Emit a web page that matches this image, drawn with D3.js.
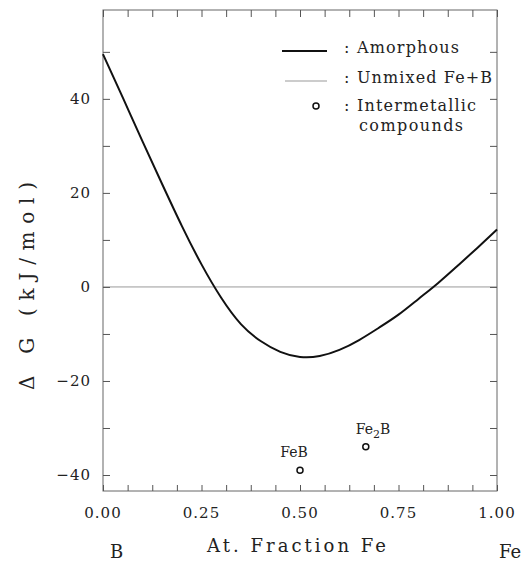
<!DOCTYPE html>
<meta charset="utf-8">
<script src="https://d3js.org/d3.v7.min.js"></script>
<style>
  body { margin: 0; background: #fff; }
  text { font-family: "DejaVu Serif", "Liberation Serif", serif; fill: #222; }
</style>
<div id="my_dataviz"></div>
<script>

// composition (atomic fraction Fe) and free energy of the amorphous phase
var xFe = [0, 0.05, 0.10, 0.15, 0.20, 0.25, 0.30, 0.35, 0.40, 0.45, 0.50,
           0.55, 0.60, 0.65, 0.70, 0.75, 0.80, 0.85, 0.90, 0.95, 1.00];
var dGamorph = [49.5, 40.3, 31.0, 21.9, 13.0, 4.8, -2.3, -7.9, -11.5, -13.8, -14.9,
                -14.7, -13.4, -11.3, -8.7, -5.9, -2.6, 0.8, 4.5, 8.3, 12.2];

// intermetallic compounds
var compNames = ["FeB", "Fe2B"];
var compX = [0.5, 0.667];
var compG = [-39, -34];

// tick labels
var xTicks = [0, 0.25, 0.5, 0.75, 1];
var yTicks = [-40, -20, 0, 20, 40];

var width = 529, height = 565;
var plotL = 103, plotR = 497, plotT = 10, plotB = 491;

var svg = d3.select("#my_dataviz")
  .append("svg")
  .attr("width", width)
  .attr("height", height);

var x = d3.scaleLinear().domain([0, 1]).range([plotL, plotR]);
var y = d3.scaleLinear().domain([-43.4, 58.9]).range([plotB, plotT]);

// zero line (unmixed Fe+B)
svg.append("line")
  .attr("x1", plotL).attr("x2", plotR)
  .attr("y1", y(0)).attr("y2", y(0))
  .attr("stroke", "#999").attr("stroke-width", 1);

// frame
svg.append("rect")
  .attr("x", plotL).attr("y", plotT)
  .attr("width", plotR - plotL).attr("height", plotB - plotT)
  .attr("fill", "none").attr("stroke", "#666").attr("stroke-width", 1);

// ticks, all pointing inward
var xMinor = d3.range(0, 17).map(function(i) { return i / 16; });
var yMinor = d3.range(-40, 60, 10);

function greyTicks(g) {
  g.select(".domain").remove();
  g.selectAll("line").attr("stroke", "#555");
}

svg.append("g")
  .attr("transform", "translate(0," + plotB + ")")
  .call(d3.axisBottom(x).tickValues(xMinor).tickSizeInner(-6).tickSizeOuter(0).tickFormat(""))
  .call(greyTicks);
svg.append("g")
  .attr("transform", "translate(0," + plotT + ")")
  .call(d3.axisTop(x).tickValues(xMinor).tickSizeInner(-7).tickSizeOuter(0).tickFormat(""))
  .call(greyTicks);
svg.append("g")
  .attr("transform", "translate(" + plotL + ",0)")
  .call(d3.axisLeft(y).tickValues(yMinor).tickSizeInner(-7).tickSizeOuter(0).tickFormat(""))
  .call(greyTicks);
svg.append("g")
  .attr("transform", "translate(" + plotR + ",0)")
  .call(d3.axisRight(y).tickValues(yMinor).tickSizeInner(-7).tickSizeOuter(0).tickFormat(""))
  .call(greyTicks);

// tick labels
svg.selectAll(".xlab")
  .data(xTicks)
  .enter().append("text")
  .attr("x", function(d) { return x(d); })
  .attr("y", 518)
  .attr("text-anchor", "middle")
  .style("font-size", "15px")
  .style("letter-spacing", "1px")
  .text(function(d) { return d3.format(".2f")(d); });

svg.selectAll(".ylab")
  .data(yTicks)
  .enter().append("text")
  .attr("x", 91)
  .attr("y", function(d) { return y(d) + 5; })
  .attr("text-anchor", "end")
  .style("font-size", "15px")
  .style("letter-spacing", "1px")
  .text(function(d) { return d < 0 ? "\u2212" + Math.abs(d) : d; });

// axis titles
svg.append("text")
  .attr("x", 207).attr("y", 552)
  .attr("textLength", 179).attr("lengthAdjust", "spacing")
  .style("font-size", "18px")
  .text("At. Fraction Fe");
svg.append("text")
  .attr("x", 110).attr("y", 558)
  .style("font-size", "18px")
  .text("B");
svg.append("text")
  .attr("x", 499).attr("y", 558)
  .style("font-size", "18px")
  .text("Fe");
svg.append("text")
  .attr("transform", "translate(34,390) rotate(-90)")
  .attr("textLength", 208).attr("lengthAdjust", "spacing")
  .style("font-size", "20px")
  .text("\u0394 G  (kJ/mol)");

// amorphous curve
var line = d3.line()
  .x(function(d, i) { return x(xFe[i]); })
  .y(function(d) { return y(d); })
  .curve(d3.curveNatural);
svg.append("path")
  .datum(dGamorph)
  .attr("d", line)
  .attr("fill", "none")
  .attr("stroke", "#111")
  .attr("stroke-width", 2);

// compounds
svg.selectAll(".comp")
  .data(compX)
  .enter().append("circle")
  .attr("cx", function(d) { return x(d); })
  .attr("cy", function(d, i) { return y(compG[i]); })
  .attr("r", 3)
  .attr("fill", "none")
  .attr("stroke", "#111")
  .attr("stroke-width", 1.5);

svg.append("text")
  .attr("x", x(compX[0]) - 6).attr("y", y(compG[0]) - 13)
  .attr("text-anchor", "middle")
  .style("font-size", "14px")
  .text(compNames[0]);
var fe2b = svg.append("text")
  .attr("x", x(compX[1]) - 10).attr("y", y(compG[1]) - 13)
  .style("font-size", "14px");
fe2b.append("tspan").text("Fe");
fe2b.append("tspan").attr("dy", 4).style("font-size", "11px").text("2");
fe2b.append("tspan").attr("dy", -4).text("B");

// legend
var legendRows = [
  { label: "Amorphous", y: 53, type: "thick" },
  { label: "Unmixed Fe+B", y: 83, type: "thin" },
  { label: "Intermetallic", y: 111, type: "circle" }
];
var legend = svg.selectAll(".legend")
  .data(legendRows)
  .enter().append("g")
  .attr("class", "legend");

legend.filter(function(d) { return d.type != "circle"; })
  .append("line")
  .attr("x1", function(d) { return d.type == "thick" ? 282 : 285; })
  .attr("x2", 327)
  .attr("y1", function(d) { return d.y - 2; })
  .attr("y2", function(d) { return d.y - 2; })
  .attr("stroke", function(d) { return d.type == "thick" ? "#111" : "#999"; })
  .attr("stroke-width", function(d) { return d.type == "thick" ? 2 : 1; });

legend.filter(function(d) { return d.type == "circle"; })
  .append("circle")
  .attr("cx", 316).attr("cy", function(d) { return d.y - 5; })
  .attr("r", 3)
  .attr("fill", "none").attr("stroke", "#111").attr("stroke-width", 1.5);

legend.append("text")
  .attr("x", 344).attr("y", function(d) { return d.y; })
  .style("font-size", "16px")
  .text(":");
legend.append("text")
  .attr("x", 357).attr("y", function(d) { return d.y; })
  .style("font-size", "16px")
  .attr("textLength", function(d) { return d.label == "Amorphous" ? 102 : d.label == "Unmixed Fe+B" ? 135 : 119; })
  .attr("lengthAdjust", "spacing")
  .text(function(d) { return d.label; });
svg.append("text")
  .attr("x", 359).attr("y", 131)
  .attr("textLength", 104).attr("lengthAdjust", "spacing")
  .style("font-size", "16px")
  .text("compounds");

</script>
